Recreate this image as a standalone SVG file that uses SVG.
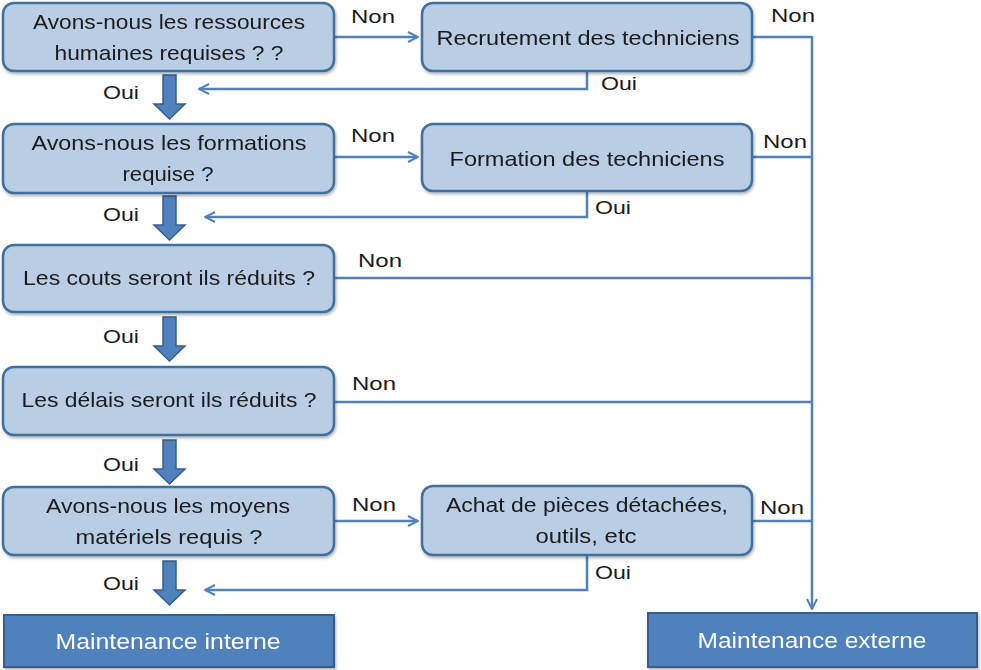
<svg xmlns="http://www.w3.org/2000/svg" width="981" height="670" viewBox="0 0 981 670">
<defs>
<style>
.q{fill:#b9cde5;stroke:#41719c;stroke-width:2.5}
.m{fill:#4f81bd;stroke:#385d8a;stroke-width:2}
.t{font-family:"Liberation Sans",Arial,sans-serif;font-size:21px;fill:#1a1a1a;text-anchor:middle}
.w{font-family:"Liberation Sans",Arial,sans-serif;font-size:22px;fill:#ffffff;text-anchor:middle}
.l{font-family:"Liberation Sans",Arial,sans-serif;font-size:19px;fill:#1a1a1a}
.c{fill:none;stroke:#4f81bd;stroke-width:2.5}
.b{fill:#4f81bd;stroke:#385d8a;stroke-width:1.5}
</style>
<marker id="ah" viewBox="0 0 10 10" refX="9" refY="5" markerWidth="5" markerHeight="5" orient="auto" markerUnits="strokeWidth">
<path d="M1,1 L9,5 L1,9" fill="none" stroke="#4f81bd" stroke-width="1.6"/>
</marker>
<filter id="sh" x="-5%" y="-10%" width="110%" height="130%">
<feDropShadow dx="1" dy="2" stdDeviation="1.5" flood-color="#000" flood-opacity="0.3"/>
</filter>
</defs>
<rect width="981" height="670" fill="#fff"/>

<g id="connectors">
<path class="c" d="M334,37 H418" marker-end="url(#ah)"/>
<path class="c" d="M587,71 V89 H199" marker-end="url(#ah)"/>
<path class="c" d="M334,157 H418" marker-end="url(#ah)"/>
<path class="c" d="M587,191 V217 H205" marker-end="url(#ah)"/>
<path class="c" d="M334,521 H418" marker-end="url(#ah)"/>
<path class="c" d="M587,555 V590 H205" marker-end="url(#ah)"/>
<path class="c" d="M752,37 H812"/>
<path class="c" d="M752,157 H812"/>
<path class="c" d="M334,278 H812"/>
<path class="c" d="M334,402 H812"/>
<path class="c" d="M752,521 H812"/>
<path class="c" d="M812,36 V609" marker-end="url(#ah)"/>
<path class="b" d="M163,75 H176 V104 H185 L169.5,119 L154,104 H163 Z"/>
<path class="b" d="M163,196 H176 V225 H185 L169.5,240 L154,225 H163 Z"/>
<path class="b" d="M163,317 H176 V346 H185 L169.5,361 L154,346 H163 Z"/>
<path class="b" d="M163,440 H176 V469 H185 L169.5,484 L154,469 H163 Z"/>
<path class="b" d="M163,561 H176 V590 H185 L169.5,605 L154,590 H163 Z"/>
<text class="l" x="351" y="23" textLength="44" lengthAdjust="spacingAndGlyphs">Non</text>
<text class="l" x="771" y="22" textLength="44" lengthAdjust="spacingAndGlyphs">Non</text>
<text class="l" x="601" y="90" textLength="36" lengthAdjust="spacingAndGlyphs">Oui</text>
<text class="l" x="103" y="99" textLength="36" lengthAdjust="spacingAndGlyphs">Oui</text>
<text class="l" x="351" y="142" textLength="44" lengthAdjust="spacingAndGlyphs">Non</text>
<text class="l" x="763" y="148" textLength="44" lengthAdjust="spacingAndGlyphs">Non</text>
<text class="l" x="595" y="214" textLength="36" lengthAdjust="spacingAndGlyphs">Oui</text>
<text class="l" x="103" y="221" textLength="36" lengthAdjust="spacingAndGlyphs">Oui</text>
<text class="l" x="358" y="267" textLength="44" lengthAdjust="spacingAndGlyphs">Non</text>
<text class="l" x="103" y="343" textLength="36" lengthAdjust="spacingAndGlyphs">Oui</text>
<text class="l" x="352" y="390" textLength="44" lengthAdjust="spacingAndGlyphs">Non</text>
<text class="l" x="103" y="471" textLength="36" lengthAdjust="spacingAndGlyphs">Oui</text>
<text class="l" x="352" y="511" textLength="44" lengthAdjust="spacingAndGlyphs">Non</text>
<text class="l" x="760" y="514" textLength="44" lengthAdjust="spacingAndGlyphs">Non</text>
<text class="l" x="595" y="579" textLength="36" lengthAdjust="spacingAndGlyphs">Oui</text>
<text class="l" x="103" y="590" textLength="36" lengthAdjust="spacingAndGlyphs">Oui</text>
</g>

<g id="q1" filter="url(#sh)"><rect class="q" x="3" y="3" width="331" height="68" rx="11"/>
<text class="t" x="169" y="29" textLength="272" lengthAdjust="spacingAndGlyphs">Avons-nous les ressources</text><text class="t" x="169" y="60" textLength="229" lengthAdjust="spacingAndGlyphs">humaines requises ? ?</text></g>
<g id="recrutement" filter="url(#sh)"><rect class="q" x="422" y="3" width="330" height="68" rx="11"/>
<text class="t" x="588" y="45" textLength="303" lengthAdjust="spacingAndGlyphs">Recrutement des techniciens</text></g>
<g id="q2" filter="url(#sh)"><rect class="q" x="3" y="124" width="331" height="69" rx="11"/>
<text class="t" x="169" y="150" textLength="275" lengthAdjust="spacingAndGlyphs">Avons-nous les formations</text><text class="t" x="168" y="181" textLength="91" lengthAdjust="spacingAndGlyphs">requise ?</text></g>
<g id="formation" filter="url(#sh)"><rect class="q" x="422" y="124" width="330" height="67" rx="11"/>
<text class="t" x="587" y="166" textLength="275" lengthAdjust="spacingAndGlyphs">Formation des techniciens</text></g>
<g id="q3" filter="url(#sh)"><rect class="q" x="3" y="245" width="331" height="67" rx="11"/>
<text class="t" x="169" y="285" textLength="292" lengthAdjust="spacingAndGlyphs">Les couts seront ils réduits ?</text></g>
<g id="q4" filter="url(#sh)"><rect class="q" x="3" y="367" width="331" height="68" rx="11"/>
<text class="t" x="169" y="407" textLength="295" lengthAdjust="spacingAndGlyphs">Les délais seront ils réduits ?</text></g>
<g id="q5" filter="url(#sh)"><rect class="q" x="3" y="487" width="331" height="68" rx="11"/>
<text class="t" x="168" y="513" textLength="244" lengthAdjust="spacingAndGlyphs">Avons-nous les moyens</text><text class="t" x="169" y="544" textLength="187" lengthAdjust="spacingAndGlyphs">matériels requis ?</text></g>
<g id="achat" filter="url(#sh)"><rect class="q" x="422" y="486" width="330" height="69" rx="11"/>
<text class="t" x="587" y="512" textLength="282" lengthAdjust="spacingAndGlyphs">Achat de pièces détachées,</text><text class="t" x="586" y="543" textLength="101" lengthAdjust="spacingAndGlyphs">outils, etc</text></g>
<g id="interne" filter="url(#sh)"><rect class="m" x="4" y="615" width="330" height="52"/>
<text class="w" x="168" y="649" textLength="225" lengthAdjust="spacingAndGlyphs">Maintenance interne</text></g>
<g id="externe" filter="url(#sh)"><rect class="m" x="648" y="613" width="329" height="54"/>
<text class="w" x="812" y="648" textLength="229" lengthAdjust="spacingAndGlyphs">Maintenance externe</text></g>
</svg>
